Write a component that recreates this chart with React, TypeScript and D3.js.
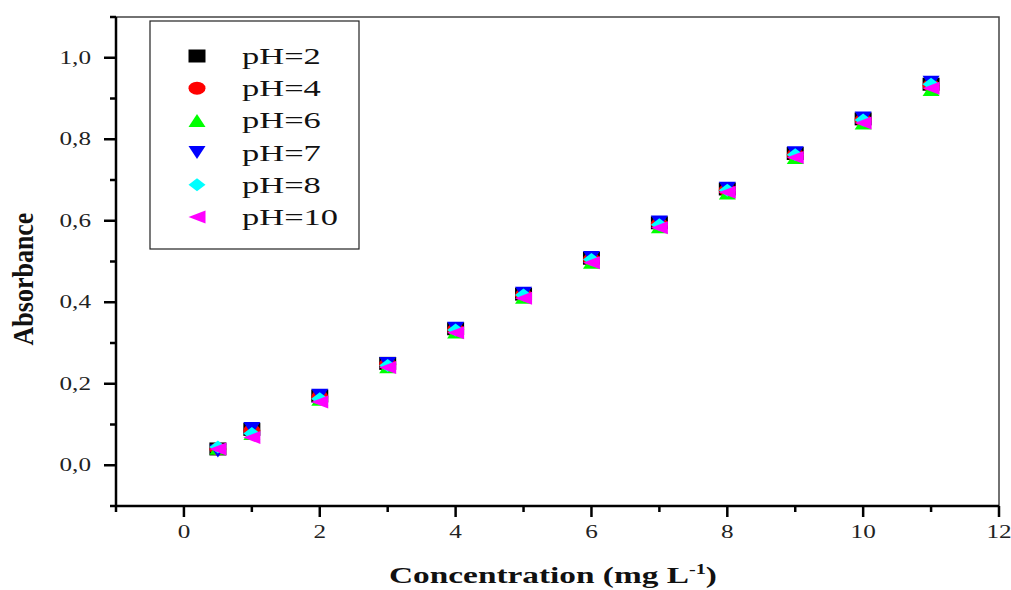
import React, { useRef, useEffect } from 'react';
import * as d3 from 'd3';

// concentration (mg/L)
const concentrations = [0.5, 1, 2, 3, 4, 5, 6, 7, 8, 9, 10, 11];

const absPH2 = [0.04, 0.088, 0.17, 0.25, 0.335, 0.42, 0.508, 0.595, 0.678, 0.765, 0.85, 0.935];
const absPH4 = [0.04, 0.085, 0.168, 0.248, 0.333, 0.418, 0.505, 0.592, 0.675, 0.762, 0.847, 0.932];
const absPH6 = [0.042, 0.078, 0.162, 0.242, 0.327, 0.412, 0.498, 0.585, 0.668, 0.755, 0.84, 0.922];
const absPH7 = [0.035, 0.09, 0.172, 0.25, 0.336, 0.422, 0.51, 0.597, 0.68, 0.767, 0.852, 0.94];
const absPH8 = [0.045, 0.078, 0.163, 0.245, 0.332, 0.418, 0.505, 0.59, 0.675, 0.762, 0.847, 0.935];
const absPH10 = [0.04, 0.068, 0.155, 0.24, 0.325, 0.41, 0.497, 0.583, 0.67, 0.755, 0.84, 0.925];

const seriesNames = ['pH=2', 'pH=4', 'pH=6', 'pH=7', 'pH=8', 'pH=10'];
const seriesColors = ['#000000', '#ff0000', '#00ff00', '#0000ff', '#00ffff', '#ff00ff'];
const seriesShapes = ['square', 'circle', 'up', 'down', 'diamond', 'left'];

const xTicks = [-1, 0, 1, 2, 3, 4, 5, 6, 7, 8, 9, 10, 11, 12];
const yTicks = [-0.1, 0, 0.1, 0.2, 0.3, 0.4, 0.5, 0.6, 0.7, 0.8, 0.9, 1.0, 1.1];

const SERIF = '"Liberation Serif", "Times New Roman", serif';

// marker path centred on 0,0 (w = half width, h = half height)
const markerPath = (shape: string, w: number, h: number) => {
  switch (shape) {
    case 'square':
      return `M${-w},${-h}H${w}V${h}H${-w}Z`;
    case 'circle':
      return `M${-w},0A${w},${h} 0 1,0 ${w},0A${w},${h} 0 1,0 ${-w},0Z`;
    case 'up':
      return `M0,${-h}L${w},${h}L${-w},${h}Z`;
    case 'down':
      return `M${-w},${-h}L${w},${-h}L0,${h}Z`;
    case 'diamond':
      return `M0,${-h}L${w},0L0,${h}L${-w},0Z`;
    default:
      return `M${-w},0L${w},${-h}L${w},${h}Z`;
  }
};

const App = () => {
  const svgRef = useRef<SVGSVGElement>(null);

  useEffect(() => {
    const svg = d3.select(svgRef.current);
    svg.selectAll('*').remove();

    const left = 116, right = 999, top = 17, bottom = 506;

    const x = d3.scaleLinear().domain([-1, 12]).range([left, right]);
    const y = d3.scaleLinear().domain([-0.1, 1.1]).range([bottom, top]);

    const data = [absPH2, absPH4, absPH6, absPH7, absPH8, absPH10];

    // frame (top/right thin)
    svg.append('path')
      .attr('d', `M${left},${top}H${right}V${bottom}`)
      .attr('fill', 'none')
      .attr('stroke', '#444')
      .attr('stroke-width', 1.5);

    // X axis
    const gx = svg.append('g');
    gx.selectAll('line.tick')
      .data(xTicks)
      .join('line')
      .attr('x1', d => x(d))
      .attr('x2', d => x(d))
      .attr('y1', bottom)
      .attr('y2', d => bottom + (d % 2 === 0 ? 11 : 6))
      .attr('stroke', '#000')
      .attr('stroke-width', 2.5);
    gx.selectAll('text')
      .data(xTicks.filter(d => d >= 0 && d % 2 === 0))
      .join('text')
      .attr('transform', d => `translate(${x(d)},538) scale(1.4,1)`)
      .attr('text-anchor', 'middle')
      .attr('font-family', SERIF)
      .attr('font-size', 18)
      .attr('fill', '#222')
      .text(d => d);
    gx.append('line')
      .attr('x1', left).attr('x2', right)
      .attr('y1', bottom).attr('y2', bottom)
      .attr('stroke', '#000')
      .attr('stroke-width', 2.5);

    // Y axis
    const gy = svg.append('g');
    const isMajorY = (d: number) => Math.round(d * 10) % 2 === 0;
    gy.selectAll('line.tick')
      .data(yTicks)
      .join('line')
      .attr('x1', left)
      .attr('x2', d => left - (isMajorY(d) ? 12 : 6))
      .attr('y1', d => y(d))
      .attr('y2', d => y(d))
      .attr('stroke', '#000')
      .attr('stroke-width', 2.5);
    gy.selectAll('text')
      .data(yTicks.filter(d => d >= 0 && isMajorY(d)))
      .join('text')
      .attr('transform', d => `translate(91,${y(d) + 6}) scale(1.4,1)`)
      .attr('text-anchor', 'end')
      .attr('font-family', SERIF)
      .attr('font-size', 18)
      .attr('fill', '#222')
      .text(d => d3.format('.1f')(d).replace('.', ','));
    gy.append('line')
      .attr('x1', left).attr('x2', left)
      .attr('y1', top).attr('y2', bottom)
      .attr('stroke', '#000')
      .attr('stroke-width', 2.5);

    // Axis titles
    const xt = svg.append('text')
      .attr('transform', 'translate(553,583) scale(1.45,1)')
      .attr('text-anchor', 'middle')
      .attr('font-family', SERIF)
      .attr('font-weight', 'bold')
      .attr('font-size', 23)
      .attr('fill', '#111');
    xt.append('tspan').text('Concentration (mg L');
    xt.append('tspan').attr('dy', -9).attr('font-size', 14).text('-1');
    xt.append('tspan').attr('dy', 9).text(')');

    svg.append('text')
      .attr('transform', 'translate(33,279) rotate(-90) scale(1,1.15)')
      .attr('text-anchor', 'middle')
      .attr('font-family', SERIF)
      .attr('font-weight', 'bold')
      .attr('font-size', 26)
      .attr('fill', '#111')
      .text('Absorbance');

    // Points
    data.forEach((vals, i) => {
      svg.append('g')
        .selectAll('path')
        .data(vals)
        .join('path')
        .attr('transform', (d, j) => `translate(${x(concentrations[j])},${y(d)})`)
        .attr('d', markerPath(seriesShapes[i], 8.5, 6.5))
        .attr('fill', seriesColors[i]);
    });

    // Legend
    const legend = svg.append('g');
    legend.append('rect')
      .attr('x', 150).attr('y', 21)
      .attr('width', 209).attr('height', 228)
      .attr('fill', '#fff')
      .attr('stroke', '#222')
      .attr('stroke-width', 1.2);
    seriesNames.forEach((name, i) => {
      const cy = 56 + i * 32.2;
      legend.append('path')
        .attr('transform', `translate(197,${cy})`)
        .attr('d', markerPath(seriesShapes[i], 8.5, 6.5))
        .attr('fill', seriesColors[i]);
      legend.append('text')
        .attr('transform', `translate(242,${cy + 8}) scale(1.5,1)`)
        .attr('font-family', SERIF)
        .attr('font-size', 23)
        .attr('fill', '#111')
        .text(name);
    });
  }, []);

  return (
    <svg
      ref={svgRef}
      width={1011}
      height={590}
      style={{ position: 'absolute', left: 0, top: 0, background: '#fff' }}
    />
  );
};

export default App;
